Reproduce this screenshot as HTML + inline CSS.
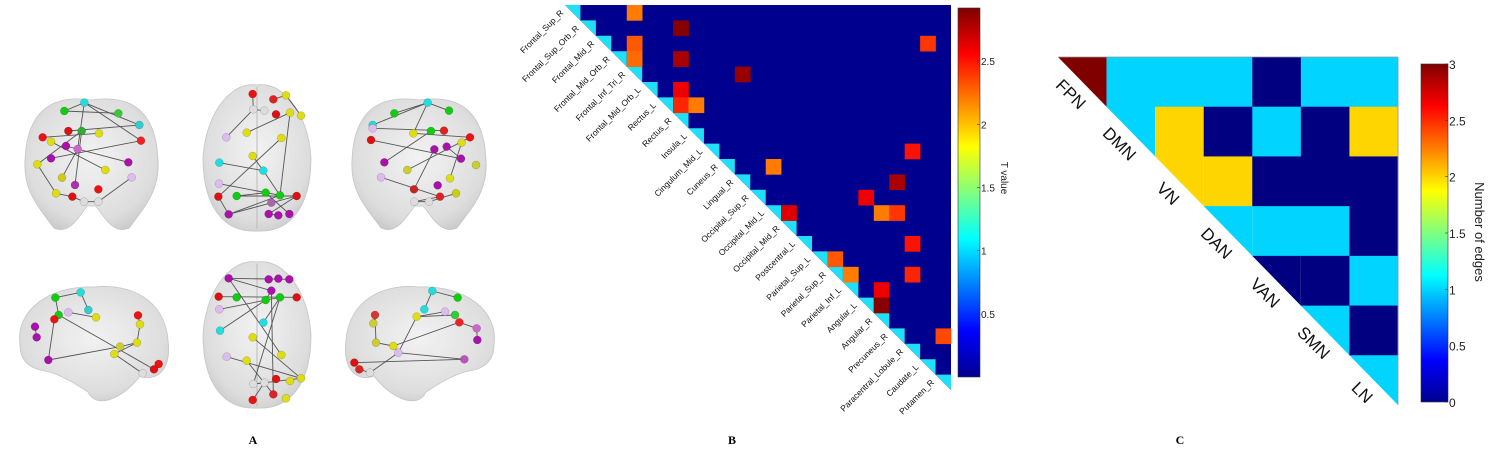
<!DOCTYPE html>
<html><head><meta charset="utf-8">
<style>
html,body{margin:0;padding:0;background:#fff;}
body{width:1496px;height:458px;overflow:hidden;position:relative;font-family:"Liberation Sans",sans-serif;}
svg{position:absolute;left:0;top:0;}
</style></head>
<body>
<svg id="s" width="1496" height="458" viewBox="0 0 1496 458">
<defs>
<linearGradient id="jetv" x1="0" y1="1" x2="0" y2="0">
<stop offset="0" stop-color="#00008f"/><stop offset="0.125" stop-color="#0000ff"/>
<stop offset="0.375" stop-color="#00ffff"/><stop offset="0.625" stop-color="#ffff00"/>
<stop offset="0.875" stop-color="#ff0000"/><stop offset="1" stop-color="#800000"/>
</linearGradient>
<radialGradient id="brainG" cx="0.5" cy="0.45" r="0.6">
<stop offset="0" stop-color="#f2f2f2"/><stop offset="0.8" stop-color="#dcdcdc"/><stop offset="1" stop-color="#c8c8c8"/>
</radialGradient>
</defs>
<g id="panelA"></g>
<g id="panelB"></g>
<g id="panelC"></g>
<text x="253" y="444" font-family="Liberation Serif" font-weight="bold" font-size="12" text-anchor="middle">A</text>
<text x="732" y="444" font-family="Liberation Serif" font-weight="bold" font-size="12" text-anchor="middle">B</text>
<text x="1180" y="444" font-family="Liberation Serif" font-weight="bold" font-size="12" text-anchor="middle">C</text>
</svg>
<script>
// ---------- Panel B data ----------
const regionsB = ["Frontal_Sup_R","Frontal_Sup_Orb_R","Frontal_Mid_R","Frontal_Mid_Orb_R","Frontal_Inf_Tri_R","Frontal_Mid_Orb_L","Rectus_L","Rectus_R","Insula_L","Cingulum_Mid_L","Cuneus_R","Lingual_R","Occipital_Sup_R","Occipital_Mid_L","Occipital_Mid_R","Postcentral_L","Parietal_Sup_L","Parietal_Sup_R","Parietal_Inf_L","Angular_L","Angular_R","Precuneus_R","Paracentral_Lobule_R","Caudate_L","Putamen_R"];
const edgeRowB = [0,1,2,2,3,3,4,5,6,6,9,10,11,12,13,13,13,15,16,17,17,18,19,21];
const edgeColB = [4,7,23,4,4,7,11,7,7,8,22,13,21,19,20,21,14,22,17,18,22,20,20,24];
const edgeValB = [2.2,2.9,2.4,2.3,2.25,2.8,2.85,2.6,2.45,2.2,2.5,2.2,2.8,2.6,2.2,2.4,2.65,2.5,2.3,2.2,2.45,2.6,2.9,2.35];
const ticksB = [0.5,1,1.5,2,2.5];
const vmaxB = 2.92;
// ---------- Panel C data ----------
const networksC = ["FPN","DMN","VN","DAN","VAN","SMN","LN"];
const matrixC = [
 [3,1,1,1,0,1,1],
 [null,1,2,0,1,0,2],
 [null,null,2,2,0,0,0],
 [null,null,null,1,1,1,0],
 [null,null,null,null,0,0,1],
 [null,null,null,null,null,1,0],
 [null,null,null,null,null,null,1]];
const ticksC = [0,0.5,1,1.5,2,2.5,3];
const vmaxC = 3;

const NS="http://www.w3.org/2000/svg";
function mk(tag,attrs,parent){const e=document.createElementNS(NS,tag);for(const k in attrs)e.setAttribute(k,attrs[k]);parent.appendChild(e);return e;}
function jet(t){t=Math.max(0,Math.min(1,t));
 const r=Math.max(0,Math.min(1,Math.min(4*t-1.5,-4*t+4.5)));
 const g=Math.max(0,Math.min(1,Math.min(4*t-0.5,-4*t+3.5)));
 const b=Math.max(0,Math.min(1,Math.min(4*t+0.5,-4*t+2.5)));
 return `rgb(${Math.round(r*255)},${Math.round(g*255)},${Math.round(b*255)})`;}

// ---------- Panel B ----------
(function(){
 const g=document.getElementById('panelB');
 const x0=565,y0=5,n=regionsB.length,W=386,H=385;
 const cw=W/n,ch=H/n;
 const xs=j=>x0+j*cw, ys=i=>y0+i*ch;
 const bg=mk('polygon',{points:`${x0},${y0} ${x0+W},${y0} ${x0+W},${y0+H}`,fill:'#00008f'},g);
 
 
 for(let i=0;i<n;i++){
  const d=mk('polygon',{points:`${xs(i)},${ys(i)} ${xs(i)+cw},${ys(i)} ${xs(i)+cw},${ys(i)+ch}`,fill:'#20e0f8'},g);
  
  
 }
 for(let k=0;k<edgeValB.length;k++){
  const c=mk('rect',{x:xs(edgeColB[k]),y:ys(edgeRowB[k]),width:cw+0.3,height:ch+0.3,fill:jet(edgeValB[k]/vmaxB)},g);
  
  
 }
 for(let i=0;i<n;i++){
  const tx=xs(i)-1, ty=ys(i)+ch*0.55;
  const t=mk('text',{x:tx,y:ty,'font-size':'8.5','text-anchor':'end',fill:'#111',transform:`rotate(-45 ${tx} ${ty})`},g);
  t.textContent=regionsB[i];
  
  
 }
 const cbx=958,cbt=8,cbb=377,cbw=22;
 const cb=mk('rect',{x:cbx,y:cbt,width:cbw,height:cbb-cbt,fill:'url(#jetv)',stroke:'#333','stroke-width':0.6},g);
 
 
 const cy=v=>cbb-(v/vmaxB)*(cbb-cbt);
 ticksB.forEach(v=>{
  mk('line',{x1:cbx+cbw-3,x2:cbx+cbw,y1:cy(v),y2:cy(v),stroke:'#333','stroke-width':0.6},g);
  const t=mk('text',{x:cbx+cbw+1,y:cy(v)+4,'font-size':'10',fill:'#222'},g);
  t.textContent=String(v);
  
  
 });
 const tt=mk('text',{x:1001,y:178,'font-size':'10','text-anchor':'middle',fill:'#222',transform:'rotate(90 1001 178)'},g);
 tt.textContent='T value';
 
 
})();

// ---------- Panel C ----------
(function(){
 const g=document.getElementById('panelC');
 const x0=1058,y0=57,n=networksC.length,W=340,H=348;
 const cw=W/n,ch=H/n;
 const xs=j=>x0+j*cw, ys=i=>y0+i*ch;
 for(let i=0;i<n;i++)for(let j=i;j<n;j++){
  const v=matrixC[i][j]; const col=jet(v/vmaxC);
  let c;
  if(i===j) c=mk('polygon',{points:`${xs(j)},${ys(i)} ${xs(j)+cw},${ys(i)} ${xs(j)+cw},${ys(i)+ch}`,fill:col},g);
  else c=mk('rect',{x:xs(j),y:ys(i),width:cw+0.4,height:ch+0.4,fill:col},g);
  
  
 }
 mk('line',{x1:x0,y1:y0,x2:x0+W,y2:y0,stroke:'#999','stroke-width':0.8},g);
 mk('line',{x1:x0+W,y1:y0,x2:x0+W,y2:y0+H,stroke:'#999','stroke-width':0.8},g);
 for(let i=0;i<n;i++){
  const cx=1071+i*cw, cyy=94+i*ch;
  const t=mk('text',{x:cx,y:cyy+6,'font-size':'17','text-anchor':'middle',fill:'#111',transform:`rotate(45 ${cx} ${cyy})`},g);
  t.textContent=networksC[i];
  
  
 }
 const cbx=1421,cbt=64,cbb=402,cbw=27;
 const cb=mk('rect',{x:cbx,y:cbt,width:cbw,height:cbb-cbt,fill:'url(#jetv)',stroke:'#333','stroke-width':0.6},g);
 
 
 const cy=v=>cbb-(v/vmaxC)*(cbb-cbt);
 ticksC.forEach(v=>{
  mk('line',{x1:cbx+cbw-3,x2:cbx+cbw,y1:cy(v),y2:cy(v),stroke:'#333','stroke-width':0.6},g);
  const t=mk('text',{x:cbx+cbw+1,y:cy(v)+5,'font-size':'12',fill:'#222'},g);
  t.textContent=String(v);
  
  
 });
 const tt=mk('text',{x:1475,y:232,'font-size':'13','text-anchor':'middle',fill:'#222',transform:'rotate(90 1475 232)'},g);
 tt.textContent='Number of edges';
 
 
})();

// ---------- Panel A (brain renderings) ----------
const brainNodes = [
 // [view, zx, zy, color]  (coords in 3x zoom of region x0,y60)
 [0,193,153,'#1c1'],[0,253,128,'#2dd'],[0,355,160,'#3c3'],[0,418,195,'#3cc'],[0,128,232,'#e11'],[0,205,213,'#d11'],[0,245,213,'#3a3'],[0,297,220,'#dd1'],[0,423,242,'#e22'],[0,153,245,'#dd1'],[0,198,258,'#a1a'],[0,233,267,'#c6c'],[0,153,295,'#a1a'],[0,385,307,'#a1a'],[0,112,313,'#dd1'],[0,316,330,'#dd1'],[0,186,353,'#cc1'],[0,395,352,'#dbe'],[0,225,375,'#a3a'],[0,295,388,'#e11'],[0,168,400,'#dd1'],[0,217,410,'#d11'],[0,252,425,'#ddd'],[0,295,425,'#ddd'],
 [1,758,102,'#e11'],[1,820,118,'#d22'],[1,858,106,'#dd1'],[1,760,148,'#ddd'],[1,793,152,'#ddd'],[1,828,163,'#d11'],[1,870,158,'#dd1'],[1,903,167,'#dd1'],[1,740,218,'#dd1'],[1,844,234,'#dd1'],[1,679,232,'#dbe'],[1,758,288,'#dd1'],[1,658,308,'#2dd'],[1,790,332,'#2dd'],[1,657,371,'#dbe'],[1,797,398,'#1c1'],[1,840,406,'#1c1'],[1,655,410,'#d11'],[1,710,408,'#1c1'],[1,890,408,'#d11'],[1,814,428,'#a6a'],[1,686,463,'#a1a'],[1,806,462,'#a1a'],[1,835,466,'#a1a'],[1,868,462,'#a1a'],
 [2,1283,128,'#2dd'],[2,1183,160,'#1c1'],[2,1347,152,'#1c1'],[2,1118,195,'#2dd'],[2,1118,205,'#dbe'],[2,1240,220,'#dd1'],[2,1293,213,'#1c1'],[2,1332,212,'#d22'],[2,1113,240,'#d11'],[2,1410,232,'#e11'],[2,1385,248,'#dd1'],[2,1303,268,'#a1a'],[2,1340,260,'#a1a'],[2,1153,307,'#a1a'],[2,1383,296,'#a1a'],[2,1222,330,'#cc3'],[2,1428,315,'#cc3'],[2,1143,352,'#dbe'],[2,1350,355,'#dd1'],[2,1313,376,'#a1a'],[2,1242,388,'#c22'],[2,1368,400,'#cc1'],[2,1320,410,'#d22'],[2,1243,425,'#ddd'],[2,1287,425,'#ddd'],
 [3,166,713,'#1c1'],[3,242,697,'#2dd'],[3,265,750,'#3cc'],[3,205,757,'#dbe'],[3,176,765,'#1c1'],[3,288,772,'#dd1'],[3,163,778,'#e11'],[3,105,800,'#a1a'],[3,110,832,'#a1a'],[3,414,766,'#e11'],[3,420,793,'#dd1'],[3,411,848,'#dd1'],[3,360,860,'#cc3'],[3,343,882,'#dd1'],[3,145,900,'#a1a'],[3,476,912,'#e11'],[3,462,928,'#d11'],[3,428,940,'#ddd'],
 [4,686,655,'#a1a'],[4,806,658,'#a1a'],[4,835,656,'#a1a'],[4,868,658,'#a1a'],[4,814,692,'#a1a'],[4,656,710,'#d11'],[4,710,712,'#1c1'],[4,797,720,'#1c1'],[4,840,712,'#1c1'],[4,890,712,'#d11'],[4,658,748,'#dbe'],[4,790,788,'#2dd'],[4,660,812,'#2dd'],[4,758,832,'#dd1'],[4,844,885,'#dd1'],[4,680,890,'#dbe'],[4,740,902,'#dd1'],[4,828,957,'#d11'],[4,870,963,'#dd1'],[4,903,955,'#dd1'],[4,760,972,'#ddd'],[4,793,968,'#ddd'],[4,820,1003,'#d22'],[4,758,1020,'#e11'],[4,858,1015,'#dd1'],
 [5,1297,693,'#2dd'],[5,1373,713,'#1c1'],[5,1273,748,'#2dd'],[5,1250,770,'#dd1'],[5,1335,755,'#dbe'],[5,1365,765,'#3c3'],[5,1378,787,'#e22'],[5,1125,765,'#d33'],[5,1120,790,'#cc3'],[5,1430,805,'#c6c'],[5,1432,840,'#a1a'],[5,1128,848,'#cc3'],[5,1180,858,'#dd1'],[5,1195,878,'#dbe'],[5,1393,898,'#b5b'],[5,1063,908,'#d11'],[5,1078,928,'#d22'],[5,1110,938,'#ddd']
];
const brainEdges = [
 [0,0,1],[0,1,3],[0,0,2],[0,1,8],[0,4,7],[0,10,13],[0,6,14],[0,14,20],[0,20,21],[0,21,22],[0,22,23],[0,23,17],[0,1,11],[0,9,15],[0,3,5],[0,6,18],[0,16,11],[0,12,8],
 [1,0,3],[1,3,4],[1,1,2],[1,2,7],[1,8,6],[1,3,10],[1,11,13],[1,9,17],[1,12,13],[1,13,16],[1,14,16],[1,17,21],[1,15,18],[1,21,19],[1,19,22],[1,21,16],[1,15,24],[1,18,19],[1,23,22],[1,6,16],
 [2,0,1],[2,0,3],[2,0,2],[2,4,7],[2,0,5],[2,5,9],[2,8,14],[2,6,13],[2,17,22],[2,22,23],[2,23,24],[2,24,21],[2,10,18],[2,15,9],[2,11,20],[2,14,12],
 [3,0,1],[3,1,2],[3,0,4],[3,6,14],[3,4,16],[3,9,10],[3,10,11],[3,11,13],[3,13,17],[3,14,12],[3,12,11],[3,7,8],[3,5,3],
 [4,0,3],[4,0,4],[4,5,9],[4,0,14],[4,4,7],[4,10,8],[4,12,7],[4,4,22],[4,15,19],[4,19,20],[4,20,21],[4,13,19],[4,11,8],[4,21,23],[4,8,20],[4,16,22],
 [5,0,1],[5,0,2],[5,4,3],[5,6,9],[5,7,11],[5,11,12],[5,12,13],[5,13,14],[5,14,15],[5,16,17],[5,17,13],[5,13,3],[5,3,5],[5,9,10],[5,8,7],[5,12,6]
];
(function(){
 const g=document.getElementById('panelA');
 const Z=x=>x/3, ZY=y=>y/3+60;
 function shape(d,name){const p=mk('path',{d:d,fill:'url(#brainG)',stroke:'#c4c4c4','stroke-width':0.8,opacity:0.95},g);}
 // coronal front / back
 [[23,160],[350,488]].forEach(([a,b],k)=>{
  const m=(a+b)/2,w=(b-a)/2;
  shape(`M${m},${100} C${m-w*0.6},${94} ${a+4},${112} ${a+2},${160} C${a},${190} ${a+14},${205} ${m-w*0.55},${228} C${m-w*0.3},${236} ${m-w*0.15},${212} ${m-4},${206} L${m+4},${206} C${m+w*0.15},${212} ${m+w*0.3},${236} ${m+w*0.55},${228} C${b-14},${205} ${b},${190} ${b-2},${160} C${b-4},${112} ${m+w*0.6},${94} ${m},${100} Z`,k?'brain-coronal-back':'brain-coronal-front');
 });
 // axial
 [[83,233],[260,410]].forEach(([t,bm],k)=>{
  shape(`M257,${t+2} C228,${t-2} 205,${t+35} 203,${(t+bm)/2} C203,${bm-25} 225,${bm} 257,${bm-2} C289,${bm} 311,${bm-25} 311,${(t+bm)/2} C309,${t+35} 286,${t-2} 257,${t+2} Z`,k?'brain-axial-bottom':'brain-axial-top');
  mk('line',{x1:257,y1:t+4,x2:257,y2:bm-4,stroke:'#bbb','stroke-width':1},g);
 });
 // lateral
 shape(`M20,345 C15,310 50,285 95,287 C130,283 165,300 168,340 C172,372 155,382 140,376 C120,402 95,408 88,392 C70,380 55,372 40,370 C25,366 20,356 20,345 Z`,'brain-lateral-left');
 shape(`M494,345 C499,310 464,285 419,287 C384,283 349,300 346,340 C342,372 359,382 374,376 C394,402 419,408 426,392 C444,380 459,372 474,370 C489,366 494,356 494,345 Z`,'brain-lateral-right');
 const byView=[[],[],[],[],[],[]];
 brainNodes.forEach(n=>byView[n[0]].push(n));
 brainEdges.forEach(e=>{
  const a=byView[e[0]][e[1]], b=byView[e[0]][e[2]];
  if(!a||!b)return;
  const l=mk('line',{x1:Z(a[1]),y1:ZY(a[2]),x2:Z(b[1]),y2:ZY(b[2]),stroke:'#555','stroke-width':0.9},g);
  
  
 });
 brainNodes.forEach(n=>{
  const c=mk('circle',{cx:Z(n[1]),cy:ZY(n[2]),r:4,fill:n[3],stroke:'rgba(0,0,0,0.25)','stroke-width':0.5},g);
  
  
 });
})();
</script>
</body></html>
